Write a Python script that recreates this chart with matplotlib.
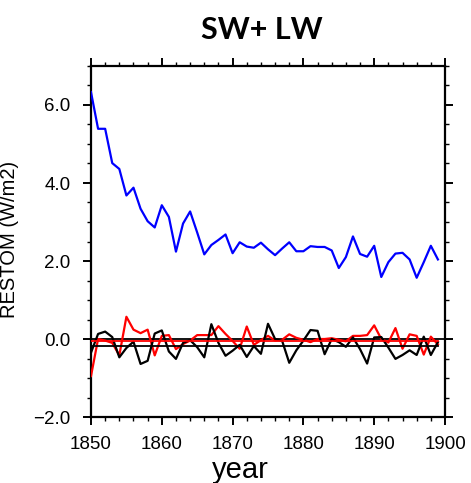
import matplotlib
matplotlib.use("Agg")
import matplotlib.pyplot as plt
from matplotlib.ticker import MultipleLocator, FixedLocator
import numpy as np

years = list(range(1850, 1900))
blue_vals = [6.33, 5.39, 5.39, 4.51, 4.36, 3.68, 3.88, 3.34, 3.02, 2.86,
             3.43, 3.13, 2.24, 2.96, 3.27, 2.73, 2.17, 2.41, 2.54, 2.68,
             2.20, 2.48, 2.37, 2.34, 2.47, 2.30, 2.15, 2.32, 2.48, 2.25,
             2.25, 2.38, 2.36, 2.36, 2.27, 1.82, 2.10, 2.63, 2.18, 2.11,
             2.39, 1.59, 1.97, 2.19, 2.21, 2.04, 1.57, 1.97, 2.39, 2.04]
red_vals = [-0.95, 0.00, -0.04, -0.10, -0.42, 0.57, 0.24, 0.15, 0.24, -0.42,
            0.08, 0.10, -0.26, -0.13, -0.04, 0.10, 0.10, 0.10, 0.33, 0.13,
            -0.05, -0.25, 0.32, -0.15, -0.03, 0.08, -0.04, -0.02, 0.12, 0.03,
            -0.02, -0.08, 0.00, 0.00, 0.02, -0.02, -0.06, 0.08, 0.08, 0.10,
            0.35, 0.00, -0.09, 0.28, -0.25, 0.12, 0.08, -0.40, 0.06, -0.14]
black_vals = [-0.35, 0.13, 0.19, 0.05, -0.47, -0.23, -0.07, -0.64, -0.56, 0.14,
              0.22, -0.32, -0.51, -0.10, -0.03, -0.21, -0.47, 0.38, -0.10, -0.43,
              -0.30, -0.15, -0.46, -0.18, -0.38, 0.39, 0.00, -0.05, -0.61, -0.29,
              -0.04, 0.23, 0.21, -0.39, 0.00, -0.08, -0.20, 0.04, -0.26, -0.63,
              0.04, 0.05, -0.22, -0.51, -0.41, -0.29, -0.41, 0.06, -0.41, -0.08]
red_mean = -0.05
black_mean = -0.18
zero_level = 0.0

title = "SW+ LW"
xlabel = "year"
ylabel = "RESTOM (W/m2)"
xticks = [1850, 1860, 1870, 1880, 1890, 1900]
yticks = [-2.0, 0.0, 2.0, 4.0, 6.0]
ytick_labels = ["\u22122.0", "0.0", "2.0", "4.0", "6.0"]

fig = plt.figure(figsize=(4.71, 4.83), dpi=100)
ax = fig.add_axes([91/471, 66/483, 354/471, 351/483])

lw = 1.6
ax.axhline(zero_level, color="black", lw=1.3, zorder=2)
ax.plot(years, blue_vals, color="#0000ff", lw=lw, zorder=3)
ax.plot(years, red_vals, color="#ff0000", lw=lw, zorder=3)
ax.plot(years, black_vals, color="black", lw=lw, zorder=4)
ax.plot([years[0], years[-1]], [red_mean, red_mean], color="#ff0000", lw=1.3, zorder=5)
ax.plot([years[0], years[-1]], [black_mean, black_mean], color="black", lw=1.3, zorder=5)

ax.set_xlim(1850, 1900)
ax.set_ylim(-2.0, 7.0)
ax.xaxis.set_major_locator(FixedLocator(xticks))
ax.xaxis.set_minor_locator(MultipleLocator(2))
ax.yaxis.set_major_locator(FixedLocator(yticks))
ax.yaxis.set_minor_locator(MultipleLocator(0.5))
ax.set_yticklabels(ytick_labels)
ax.set_xticklabels([str(t) for t in xticks])

for s in ax.spines.values():
    s.set_linewidth(1.6)

tickfont = "Liberation Sans"
ax.tick_params(which="major", direction="out", length=5.8, width=1.4,
               top=True, right=True, labelsize=13.5, pad=8)
ax.tick_params(which="minor", direction="out", length=2.9, width=1.0,
               top=True, right=True)
ax.tick_params(axis="y", which="major", pad=9)
for lab in ax.get_xticklabels() + ax.get_yticklabels():
    lab.set_fontfamily(tickfont)

fig.text(262/471, 1 - 30/483, title, ha="center", va="center",
         fontsize=22, fontweight="bold", family="Lato")
fig.text(240/471, 1 - 470/483, xlabel, ha="center", va="center",
         fontsize=21, family=tickfont)
fig.text(10/471, 1 - 239/483, ylabel, ha="center", va="center",
         rotation=90, fontsize=14.5, family=tickfont)

fig.savefig("out.png", dpi=100)
